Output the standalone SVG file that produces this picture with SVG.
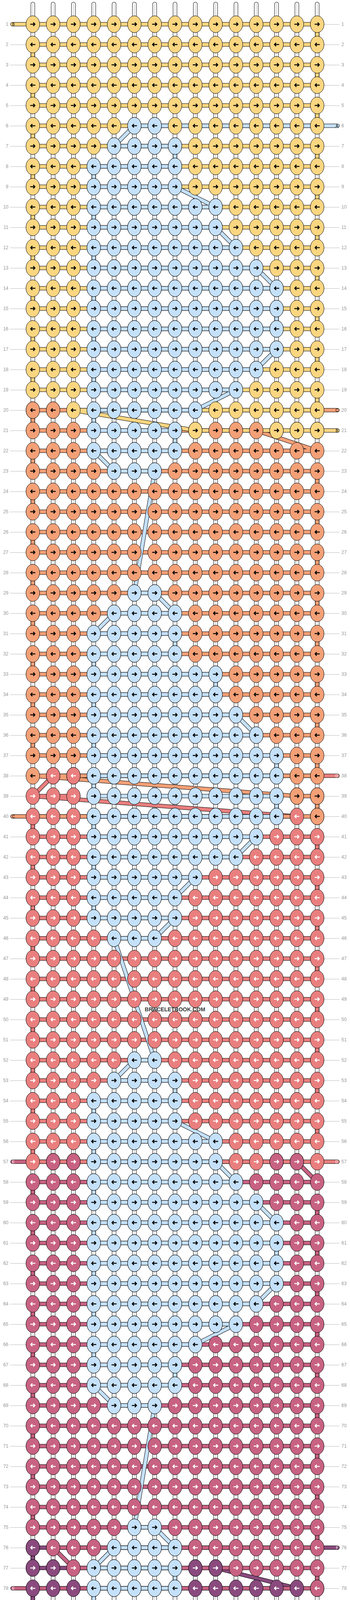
<svg xmlns="http://www.w3.org/2000/svg" width="896" height="5116" viewBox="0 0 896 5116">
<style>
.t0{fill:none;stroke:#000;stroke-width:11;stroke-linecap:round}
.t1{fill:none;stroke:#fff;stroke-width:9;stroke-linecap:round}
.t2{fill:none;stroke:#c4c4c4;stroke-width:1.4}
.gl{fill:none;stroke:#bbb;stroke-width:1}
.s0{fill:none;stroke:#000;stroke-width:10.5;stroke-linecap:round;stroke-linejoin:round}
.s{fill:none;stroke-width:8.5;stroke-linecap:round;stroke-linejoin:round}
.cY{stroke:#FAD681}.cB{stroke:#C5E1FA}.cO{stroke:#F3A077}.cR{stroke:#E97F7E}.cP{stroke:#C86282}.cV{stroke:#8A4A7E}
.kY{fill:#FAD681;stroke:#000}.kB{fill:#C5E1FA;stroke:#000}.kO{fill:#F3A077;stroke:#000}.kR{fill:#E97F7E;stroke:#000}.kP{fill:#C86282;stroke:#000}.kV{fill:#8A4A7E;stroke:#000}
.ab{fill:none;stroke:#000;stroke-width:2.6}
.aw{fill:none;stroke:#fff;stroke-width:2.6}
.lb{font-family:"Liberation Sans",Arial,sans-serif;font-size:12px;fill:#999}
.sl{font-family:"Liberation Sans",Arial,sans-serif;font-size:10px}
.wm{font-family:"Liberation Sans",Arial,sans-serif;font-size:14px;font-weight:bold;fill:#3c3c3c}
</style>
<defs>
<path id="tp" d="M84 10.5V5105.5M136 10.5V5105.5M188 10.5V5105.5M240 10.5V5105.5M292 10.5V5105.5M344 10.5V5105.5M396 10.5V5105.5M448 10.5V5105.5M500 10.5V5105.5M552 10.5V5105.5M604 10.5V5105.5M656 10.5V5105.5M708 10.5V5105.5M760 10.5V5105.5M812 10.5V5105.5"/>
<path id="pV" d="M864 3962H84V4014H552L760 4066H84V4118H812V4170H84V4222H812V4274H84V4326H812V4378H84V4430H812V4482H84V4534H812V4586H84V4638H812V4690H84V4742H812V4794H84V4846H812V4898H84V4950H812V5002H84V5054H864"/>
<path id="pP" d="M32 2974H760L812 3026H84V3078H812V3130H84V3182H812V3234H84V3286H812V3338H84V3390H812V3442H84V3494H812V3546H84V3598H812V3650H84V3702H812V3754H84V3806H812V3858H84V3910H812V3962H136L188 4014H812V4066H32"/>
<path id="pR" d="M864 1986H136L84 2038L760 2090H84V2142H812V2194H84V2246H812V2298H84V2350H812V2402H84V2454H812V2506H84V2558H812V2610H84V2662H812V2714H84V2766H812V2818H84V2870H812V2922H84V2974H864M84 2038H188"/>
<path id="pO" d="M864 1050H84V1102H656L812 1154H84V1206H812V1258H84V1310H812V1362H84V1414H812V1466H84V1518H812V1570H84V1622H812V1674H84V1726H812V1778H84V1830H812V1882H84V1934H812V1986H84L760 2038H812V2090H32"/>
<path id="pY" d="M32 62H812V114H84V166H812V218H84V270H812V322H84V374H812V426H84V478H812V530H84V582H812V634H84V686H812V738H84V790H812V842H84V894H812V946H84V998H812V1050H188L500 1102H864"/>
<path id="pB" d="M864 322H344L292 374H448V426H240V478H448L552 530H240V582H552L604 634H240V686H656L708 738H240V790H708V842H240V894H708L656 946H240V998H604L500 1050H240V1102H448V1154H240L292 1206H396L344 1518H396L448 1570H292L240 1622H448V1674H240V1726H552V1778H240V1830H604L656 1882H240V1934H708V1986H240V2038H708V2090H240V2142H656L604 2194H240V2246H500L448 2298H240V2350H448L396 2402H292L396 2714H344L292 2766H448V2818H240V2870H448L552 2922H240V2974H552L604 3026H240V3078H656L708 3130H240V3182H708V3234H240V3286H708L656 3338H240V3390H604L500 3442H240V3494H448V3546H240L292 3598H396L344 3910H396L448 3962H292L240 4014H448V4066H240V4118H552V4170H240V4222H604L656 4274H240V4326H708V4378H240V4430H708V4482H240V4534H656L604 4586H240V4638H500L448 4690H240V4742H448L396 4794H32"/>
<ellipse id="e" rx="17.5" ry="21.5"/>
<path id="ar" d="M-6.5 0H5M1.2-4.3L5.3 0 1.2 4.3"/>
<path id="al" d="M6.5 0H-5M-1.2-4.3L-5.3 0-1.2 4.3"/>
<g id="E15"><use href="#e" x="84"/><use href="#e" x="136"/><use href="#e" x="188"/><use href="#e" x="240"/><use href="#e" x="292"/><use href="#e" x="344"/><use href="#e" x="396"/><use href="#e" x="448"/><use href="#e" x="500"/><use href="#e" x="552"/><use href="#e" x="604"/><use href="#e" x="656"/><use href="#e" x="708"/><use href="#e" x="760"/><use href="#e" x="812"/></g>
<g id="R15"><use href="#ar" x="84"/><use href="#ar" x="136"/><use href="#ar" x="188"/><use href="#ar" x="240"/><use href="#ar" x="292"/><use href="#ar" x="344"/><use href="#ar" x="396"/><use href="#ar" x="448"/><use href="#ar" x="500"/><use href="#ar" x="552"/><use href="#ar" x="604"/><use href="#ar" x="656"/><use href="#ar" x="708"/><use href="#ar" x="760"/><use href="#ar" x="812"/></g>
<g id="L15"><use href="#al" x="84"/><use href="#al" x="136"/><use href="#al" x="188"/><use href="#al" x="240"/><use href="#al" x="292"/><use href="#al" x="344"/><use href="#al" x="396"/><use href="#al" x="448"/><use href="#al" x="500"/><use href="#al" x="552"/><use href="#al" x="604"/><use href="#al" x="656"/><use href="#al" x="708"/><use href="#al" x="760"/><use href="#al" x="812"/></g>
<g id="Yr" class="kY"><use href="#E15"/><use href="#R15" class="ab"/></g>
<g id="Yl" class="kY"><use href="#E15"/><use href="#L15" class="ab"/></g>
<g id="Or" class="kO"><use href="#E15"/><use href="#R15" class="ab"/></g>
<g id="Ol" class="kO"><use href="#E15"/><use href="#L15" class="ab"/></g>
<g id="Rr" class="kR"><use href="#E15"/><use href="#R15" class="aw"/></g>
<g id="Rl" class="kR"><use href="#E15"/><use href="#L15" class="aw"/></g>
<g id="Pr" class="kP"><use href="#E15"/><use href="#R15" class="aw"/></g>
<g id="Pl" class="kP"><use href="#E15"/><use href="#L15" class="aw"/></g>
<g id="Vr" class="kV"><use href="#E15"/><use href="#R15" class="aw"/></g>
<g id="Vl" class="kV"><use href="#E15"/><use href="#L15" class="aw"/></g>
<g id="yr" class="kY"><use href="#e"/><use href="#ar" class="ab"/></g>
<g id="ol" class="kO"><use href="#e"/><use href="#al" class="ab"/></g>
<g id="or" class="kO"><use href="#e"/><use href="#ar" class="ab"/></g>
<g id="rl" class="kR"><use href="#e"/><use href="#al" class="aw"/></g>
<g id="pr" class="kP"><use href="#e"/><use href="#ar" class="aw"/></g>
<g id="pl" class="kP"><use href="#e"/><use href="#al" class="aw"/></g>
<g id="vr" class="kV"><use href="#e"/><use href="#ar" class="aw"/></g>
<g id="vl" class="kV"><use href="#e"/><use href="#al" class="aw"/></g>
<g id="br" class="kB"><use href="#e"/><use href="#ar" class="ab"/></g>
<g id="bl" class="kB"><use href="#e"/><use href="#al" class="ab"/></g>
<g id="Br2"><use href="#br"/><use href="#br" x="52"/></g>
<g id="Br3"><use href="#Br2"/><use href="#br" x="104"/></g>
<g id="Br4"><use href="#Br3"/><use href="#br" x="156"/></g>
<g id="Br5"><use href="#Br4"/><use href="#br" x="208"/></g>
<g id="Br6"><use href="#Br5"/><use href="#br" x="260"/></g>
<g id="Br7"><use href="#Br6"/><use href="#br" x="312"/></g>
<g id="Br8"><use href="#Br7"/><use href="#br" x="364"/></g>
<g id="Br9"><use href="#Br8"/><use href="#br" x="416"/></g>
<g id="Br10"><use href="#Br9"/><use href="#br" x="468"/></g>
<g id="Bl2"><use href="#bl"/><use href="#bl" x="52"/></g>
<g id="Bl3"><use href="#Bl2"/><use href="#bl" x="104"/></g>
<g id="Bl4"><use href="#Bl3"/><use href="#bl" x="156"/></g>
<g id="Bl5"><use href="#Bl4"/><use href="#bl" x="208"/></g>
<g id="Bl6"><use href="#Bl5"/><use href="#bl" x="260"/></g>
<g id="Bl7"><use href="#Bl6"/><use href="#bl" x="312"/></g>
<g id="Bl8"><use href="#Bl7"/><use href="#bl" x="364"/></g>
<g id="Bl9"><use href="#Bl8"/><use href="#bl" x="416"/></g>
<g id="Bl10"><use href="#Bl9"/><use href="#bl" x="468"/></g>
</defs>
<rect width="896" height="5116" fill="#fff"/>
<path id="guides" class="gl" d="M26 62.5H67M829 62.5H869M26 114.5H67M829 114.5H869M26 166.5H67M829 166.5H869M26 218.5H67M829 218.5H869M26 270.5H67M829 270.5H869M26 322.5H67M829 322.5H869M26 374.5H67M829 374.5H869M26 426.5H67M829 426.5H869M26 478.5H67M829 478.5H869M26 530.5H67M829 530.5H869M26 582.5H67M829 582.5H869M26 634.5H67M829 634.5H869M26 686.5H67M829 686.5H869M26 738.5H67M829 738.5H869M26 790.5H67M829 790.5H869M26 842.5H67M829 842.5H869M26 894.5H67M829 894.5H869M26 946.5H67M829 946.5H869M26 998.5H67M829 998.5H869M26 1050.5H67M829 1050.5H869M26 1102.5H67M829 1102.5H869M26 1154.5H67M829 1154.5H869M26 1206.5H67M829 1206.5H869M26 1258.5H67M829 1258.5H869M26 1310.5H67M829 1310.5H869M26 1362.5H67M829 1362.5H869M26 1414.5H67M829 1414.5H869M26 1466.5H67M829 1466.5H869M26 1518.5H67M829 1518.5H869M26 1570.5H67M829 1570.5H869M26 1622.5H67M829 1622.5H869M26 1674.5H67M829 1674.5H869M26 1726.5H67M829 1726.5H869M26 1778.5H67M829 1778.5H869M26 1830.5H67M829 1830.5H869M26 1882.5H67M829 1882.5H869M26 1934.5H67M829 1934.5H869M26 1986.5H67M829 1986.5H869M26 2038.5H67M829 2038.5H869M26 2090.5H67M829 2090.5H869M26 2142.5H67M829 2142.5H869M26 2194.5H67M829 2194.5H869M26 2246.5H67M829 2246.5H869M26 2298.5H67M829 2298.5H869M26 2350.5H67M829 2350.5H869M26 2402.5H67M829 2402.5H869M26 2454.5H67M829 2454.5H869M26 2506.5H67M829 2506.5H869M26 2558.5H67M829 2558.5H869M26 2610.5H67M829 2610.5H869M26 2662.5H67M829 2662.5H869M26 2714.5H67M829 2714.5H869M26 2766.5H67M829 2766.5H869M26 2818.5H67M829 2818.5H869M26 2870.5H67M829 2870.5H869M26 2922.5H67M829 2922.5H869M26 2974.5H67M829 2974.5H869M26 3026.5H67M829 3026.5H869M26 3078.5H67M829 3078.5H869M26 3130.5H67M829 3130.5H869M26 3182.5H67M829 3182.5H869M26 3234.5H67M829 3234.5H869M26 3286.5H67M829 3286.5H869M26 3338.5H67M829 3338.5H869M26 3390.5H67M829 3390.5H869M26 3442.5H67M829 3442.5H869M26 3494.5H67M829 3494.5H869M26 3546.5H67M829 3546.5H869M26 3598.5H67M829 3598.5H869M26 3650.5H67M829 3650.5H869M26 3702.5H67M829 3702.5H869M26 3754.5H67M829 3754.5H869M26 3806.5H67M829 3806.5H869M26 3858.5H67M829 3858.5H869M26 3910.5H67M829 3910.5H869M26 3962.5H67M829 3962.5H869M26 4014.5H67M829 4014.5H869M26 4066.5H67M829 4066.5H869M26 4118.5H67M829 4118.5H869M26 4170.5H67M829 4170.5H869M26 4222.5H67M829 4222.5H869M26 4274.5H67M829 4274.5H869M26 4326.5H67M829 4326.5H869M26 4378.5H67M829 4378.5H869M26 4430.5H67M829 4430.5H869M26 4482.5H67M829 4482.5H869M26 4534.5H67M829 4534.5H869M26 4586.5H67M829 4586.5H869M26 4638.5H67M829 4638.5H869M26 4690.5H67M829 4690.5H869M26 4742.5H67M829 4742.5H869M26 4794.5H67M829 4794.5H869M26 4846.5H67M829 4846.5H869M26 4898.5H67M829 4898.5H869M26 4950.5H67M829 4950.5H869M26 5002.5H67M829 5002.5H869M26 5054.5H67M829 5054.5H869"/>
<g id="base-strings"><use href="#tp" class="t0"/><use href="#tp" class="t1"/><use href="#tp" class="t2"/></g>
<g id="connectors">
<use href="#pV" class="s0"/><use href="#pV" class="s cV"/>
<use href="#pP" class="s0"/><use href="#pP" class="s cP"/>
<use href="#pR" class="s0"/><use href="#pR" class="s cR"/>
<use href="#pO" class="s0"/><use href="#pO" class="s cO"/>
<use href="#pY" class="s0"/><use href="#pY" class="s cY"/>
<use href="#pB" class="s0"/><use href="#pB" class="s cB"/>
</g>
<g id="knots">
<g id="r1"><use href="#Yr" y="62"/></g>
<g id="r2"><use href="#Yl" y="114"/></g>
<g id="r3"><use href="#Yr" y="166"/></g>
<g id="r4"><use href="#Yl" y="218"/></g>
<g id="r5"><use href="#Yr" y="270"/></g>
<g id="r6"><use href="#Yl" y="322"/><use href="#Bl2" x="344" y="322"/></g>
<g id="r7"><use href="#Yr" y="374"/><use href="#Br4" x="292" y="374"/></g>
<g id="r8"><use href="#Yl" y="426"/><use href="#Bl5" x="240" y="426"/></g>
<g id="r9"><use href="#Yr" y="478"/><use href="#Br5" x="240" y="478"/></g>
<g id="r10"><use href="#Yl" y="530"/><use href="#Bl7" x="240" y="530"/></g>
<g id="r11"><use href="#Yr" y="582"/><use href="#Br7" x="240" y="582"/></g>
<g id="r12"><use href="#Yl" y="634"/><use href="#Bl8" x="240" y="634"/></g>
<g id="r13"><use href="#Yr" y="686"/><use href="#Br9" x="240" y="686"/></g>
<g id="r14"><use href="#Yl" y="738"/><use href="#Bl10" x="240" y="738"/></g>
<g id="r15"><use href="#Yr" y="790"/><use href="#Br10" x="240" y="790"/></g>
<g id="r16"><use href="#Yl" y="842"/><use href="#Bl10" x="240" y="842"/></g>
<g id="r17"><use href="#Yr" y="894"/><use href="#Br10" x="240" y="894"/></g>
<g id="r18"><use href="#Yl" y="946"/><use href="#Bl9" x="240" y="946"/></g>
<g id="r19"><use href="#Yr" y="998"/><use href="#Br8" x="240" y="998"/></g>
<g id="r20"><use href="#Yl" y="1050"/><use href="#Bl6" x="240" y="1050"/><use href="#ol" x="84" y="1050"/><use href="#ol" x="136" y="1050"/></g>
<g id="r21"><use href="#Or" y="1102"/><use href="#Br5" x="240" y="1102"/><use href="#yr" x="500" y="1102"/><use href="#yr" x="708" y="1102"/><use href="#yr" x="760" y="1102"/><use href="#yr" x="812" y="1102"/></g>
<g id="r22"><use href="#Ol" y="1154"/><use href="#Bl5" x="240" y="1154"/></g>
<g id="r23"><use href="#Or" y="1206"/><use href="#Br3" x="292" y="1206"/></g>
<g id="r24"><use href="#Ol" y="1258"/></g>
<g id="r25"><use href="#Or" y="1310"/></g>
<g id="r26"><use href="#Ol" y="1362"/></g>
<g id="r27"><use href="#Or" y="1414"/></g>
<g id="r28"><use href="#Ol" y="1466"/></g>
<g id="r29"><use href="#Or" y="1518"/><use href="#Br2" x="344" y="1518"/></g>
<g id="r30"><use href="#Ol" y="1570"/><use href="#Bl4" x="292" y="1570"/></g>
<g id="r31"><use href="#Or" y="1622"/><use href="#Br5" x="240" y="1622"/></g>
<g id="r32"><use href="#Ol" y="1674"/><use href="#Bl5" x="240" y="1674"/></g>
<g id="r33"><use href="#Or" y="1726"/><use href="#Br7" x="240" y="1726"/></g>
<g id="r34"><use href="#Ol" y="1778"/><use href="#Bl7" x="240" y="1778"/></g>
<g id="r35"><use href="#Or" y="1830"/><use href="#Br8" x="240" y="1830"/></g>
<g id="r36"><use href="#Ol" y="1882"/><use href="#Bl9" x="240" y="1882"/></g>
<g id="r37"><use href="#Or" y="1934"/><use href="#Br10" x="240" y="1934"/></g>
<g id="r38"><use href="#Ol" y="1986"/><use href="#Bl10" x="240" y="1986"/><use href="#rl" x="136" y="1986"/><use href="#rl" x="188" y="1986"/></g>
<g id="r39"><use href="#Rr" y="2038"/><use href="#Br10" x="240" y="2038"/><use href="#or" x="760" y="2038"/><use href="#or" x="812" y="2038"/></g>
<g id="r40"><use href="#Rl" y="2090"/><use href="#Bl10" x="240" y="2090"/><use href="#ol" x="812" y="2090"/></g>
<g id="r41"><use href="#Rr" y="2142"/><use href="#Br9" x="240" y="2142"/></g>
<g id="r42"><use href="#Rl" y="2194"/><use href="#Bl8" x="240" y="2194"/></g>
<g id="r43"><use href="#Rr" y="2246"/><use href="#Br6" x="240" y="2246"/></g>
<g id="r44"><use href="#Rl" y="2298"/><use href="#Bl5" x="240" y="2298"/></g>
<g id="r45"><use href="#Rr" y="2350"/><use href="#Br5" x="240" y="2350"/></g>
<g id="r46"><use href="#Rl" y="2402"/><use href="#Bl3" x="292" y="2402"/></g>
<g id="r47"><use href="#Rr" y="2454"/></g>
<g id="r48"><use href="#Rl" y="2506"/></g>
<g id="r49"><use href="#Rr" y="2558"/></g>
<g id="r50"><use href="#Rl" y="2610"/></g>
<g id="r51"><use href="#Rr" y="2662"/></g>
<g id="r52"><use href="#Rl" y="2714"/><use href="#Bl2" x="344" y="2714"/></g>
<g id="r53"><use href="#Rr" y="2766"/><use href="#Br4" x="292" y="2766"/></g>
<g id="r54"><use href="#Rl" y="2818"/><use href="#Bl5" x="240" y="2818"/></g>
<g id="r55"><use href="#Rr" y="2870"/><use href="#Br5" x="240" y="2870"/></g>
<g id="r56"><use href="#Rl" y="2922"/><use href="#Bl7" x="240" y="2922"/></g>
<g id="r57"><use href="#Rr" y="2974"/><use href="#Br7" x="240" y="2974"/><use href="#pr" x="136" y="2974"/><use href="#pr" x="188" y="2974"/><use href="#pr" x="708" y="2974"/><use href="#pr" x="760" y="2974"/></g>
<g id="r58"><use href="#Pl" y="3026"/><use href="#Bl8" x="240" y="3026"/></g>
<g id="r59"><use href="#Pr" y="3078"/><use href="#Br9" x="240" y="3078"/></g>
<g id="r60"><use href="#Pl" y="3130"/><use href="#Bl10" x="240" y="3130"/></g>
<g id="r61"><use href="#Pr" y="3182"/><use href="#Br10" x="240" y="3182"/></g>
<g id="r62"><use href="#Pl" y="3234"/><use href="#Bl10" x="240" y="3234"/></g>
<g id="r63"><use href="#Pr" y="3286"/><use href="#Br10" x="240" y="3286"/></g>
<g id="r64"><use href="#Pl" y="3338"/><use href="#Bl9" x="240" y="3338"/></g>
<g id="r65"><use href="#Pr" y="3390"/><use href="#Br8" x="240" y="3390"/></g>
<g id="r66"><use href="#Pl" y="3442"/><use href="#Bl6" x="240" y="3442"/></g>
<g id="r67"><use href="#Pr" y="3494"/><use href="#Br5" x="240" y="3494"/></g>
<g id="r68"><use href="#Pl" y="3546"/><use href="#Bl5" x="240" y="3546"/></g>
<g id="r69"><use href="#Pr" y="3598"/><use href="#Br3" x="292" y="3598"/></g>
<g id="r70"><use href="#Pl" y="3650"/></g>
<g id="r71"><use href="#Pr" y="3702"/></g>
<g id="r72"><use href="#Pl" y="3754"/></g>
<g id="r73"><use href="#Pr" y="3806"/></g>
<g id="r74"><use href="#Pl" y="3858"/></g>
<g id="r75"><use href="#Pr" y="3910"/><use href="#Br2" x="344" y="3910"/></g>
<g id="r76"><use href="#Pl" y="3962"/><use href="#Bl4" x="292" y="3962"/><use href="#vl" x="84" y="3962"/></g>
<g id="r77"><use href="#Pr" y="4014"/><use href="#Br5" x="240" y="4014"/><use href="#vr" x="84" y="4014"/><use href="#vr" x="136" y="4014"/><use href="#vr" x="500" y="4014"/><use href="#vr" x="552" y="4014"/></g>
<g id="r78"><use href="#Vl" y="4066"/><use href="#Bl5" x="240" y="4066"/><use href="#pl" x="812" y="4066"/></g>
<g id="r79"><use href="#Vr" y="4118"/><use href="#Br7" x="240" y="4118"/></g>
<g id="r80"><use href="#Vl" y="4170"/><use href="#Bl7" x="240" y="4170"/></g>
<g id="r81"><use href="#Vr" y="4222"/><use href="#Br8" x="240" y="4222"/></g>
<g id="r82"><use href="#Vl" y="4274"/><use href="#Bl9" x="240" y="4274"/></g>
<g id="r83"><use href="#Vr" y="4326"/><use href="#Br10" x="240" y="4326"/></g>
<g id="r84"><use href="#Vl" y="4378"/><use href="#Bl10" x="240" y="4378"/></g>
<g id="r85"><use href="#Vr" y="4430"/><use href="#Br10" x="240" y="4430"/></g>
<g id="r86"><use href="#Vl" y="4482"/><use href="#Bl10" x="240" y="4482"/></g>
<g id="r87"><use href="#Vr" y="4534"/><use href="#Br9" x="240" y="4534"/></g>
<g id="r88"><use href="#Vl" y="4586"/><use href="#Bl8" x="240" y="4586"/></g>
<g id="r89"><use href="#Vr" y="4638"/><use href="#Br6" x="240" y="4638"/></g>
<g id="r90"><use href="#Vl" y="4690"/><use href="#Bl5" x="240" y="4690"/></g>
<g id="r91"><use href="#Vr" y="4742"/><use href="#Br5" x="240" y="4742"/></g>
<g id="r92"><use href="#Vl" y="4794"/><use href="#Bl3" x="292" y="4794"/></g>
<g id="r93"><use href="#Vr" y="4846"/></g>
<g id="r94"><use href="#Vl" y="4898"/></g>
<g id="r95"><use href="#Vr" y="4950"/></g>
<g id="r96"><use href="#Vl" y="5002"/></g>
<g id="r97"><use href="#Vr" y="5054"/></g>
</g>
<g id="stub-labels" class="sl">
<text x="31" y="65.7">B</text>
<text x="31" y="2093.7">C</text>
<text x="31" y="2977.7" fill="#fff">E</text>
<text x="31" y="4069.7" fill="#fff">E</text>
<text x="31" y="4797.7">A</text>
<g text-anchor="end">
<text x="866" y="325.7">A</text>
<text x="866" y="1053.7">C</text>
<text x="866" y="1105.7">B</text>
<text x="866" y="1989.7" fill="#fff">D</text>
<text x="866" y="2977.7" fill="#fff">D</text>
<text x="866" y="3965.7" fill="#fff">F</text>
<text x="866" y="5057.7" fill="#fff">F</text>
</g>
</g>
<g id="row-labels-left" class="lb" text-anchor="end">
<text x="21.5" y="66.3">1</text><text x="21.5" y="118.3">2</text><text x="21.5" y="170.3">3</text><text x="21.5" y="222.3">4</text><text x="21.5" y="274.3">5</text><text x="21.5" y="326.3">6</text><text x="21.5" y="378.3">7</text><text x="21.5" y="430.3">8</text><text x="21.5" y="482.3">9</text><text x="21.5" y="534.3">10</text>
<text x="21.5" y="586.3">11</text><text x="21.5" y="638.3">12</text><text x="21.5" y="690.3">13</text><text x="21.5" y="742.3">14</text><text x="21.5" y="794.3">15</text><text x="21.5" y="846.3">16</text><text x="21.5" y="898.3">17</text><text x="21.5" y="950.3">18</text><text x="21.5" y="1002.3">19</text><text x="21.5" y="1054.3">20</text>
<text x="21.5" y="1106.3">21</text><text x="21.5" y="1158.3">22</text><text x="21.5" y="1210.3">23</text><text x="21.5" y="1262.3">24</text><text x="21.5" y="1314.3">25</text><text x="21.5" y="1366.3">26</text><text x="21.5" y="1418.3">27</text><text x="21.5" y="1470.3">28</text><text x="21.5" y="1522.3">29</text><text x="21.5" y="1574.3">30</text>
<text x="21.5" y="1626.3">31</text><text x="21.5" y="1678.3">32</text><text x="21.5" y="1730.3">33</text><text x="21.5" y="1782.3">34</text><text x="21.5" y="1834.3">35</text><text x="21.5" y="1886.3">36</text><text x="21.5" y="1938.3">37</text><text x="21.5" y="1990.3">38</text><text x="21.5" y="2042.3">39</text><text x="21.5" y="2094.3">40</text>
<text x="21.5" y="2146.3">41</text><text x="21.5" y="2198.3">42</text><text x="21.5" y="2250.3">43</text><text x="21.5" y="2302.3">44</text><text x="21.5" y="2354.3">45</text><text x="21.5" y="2406.3">46</text><text x="21.5" y="2458.3">47</text><text x="21.5" y="2510.3">48</text><text x="21.5" y="2562.3">49</text><text x="21.5" y="2614.3">50</text>
<text x="21.5" y="2666.3">51</text><text x="21.5" y="2718.3">52</text><text x="21.5" y="2770.3">53</text><text x="21.5" y="2822.3">54</text><text x="21.5" y="2874.3">55</text><text x="21.5" y="2926.3">56</text><text x="21.5" y="2978.3">57</text><text x="21.5" y="3030.3">58</text><text x="21.5" y="3082.3">59</text><text x="21.5" y="3134.3">60</text>
<text x="21.5" y="3186.3">61</text><text x="21.5" y="3238.3">62</text><text x="21.5" y="3290.3">63</text><text x="21.5" y="3342.3">64</text><text x="21.5" y="3394.3">65</text><text x="21.5" y="3446.3">66</text><text x="21.5" y="3498.3">67</text><text x="21.5" y="3550.3">68</text><text x="21.5" y="3602.3">69</text><text x="21.5" y="3654.3">70</text>
<text x="21.5" y="3706.3">71</text><text x="21.5" y="3758.3">72</text><text x="21.5" y="3810.3">73</text><text x="21.5" y="3862.3">74</text><text x="21.5" y="3914.3">75</text><text x="21.5" y="3966.3">76</text><text x="21.5" y="4018.3">77</text><text x="21.5" y="4070.3">78</text><text x="21.5" y="4122.3">79</text><text x="21.5" y="4174.3">80</text>
<text x="21.5" y="4226.3">81</text><text x="21.5" y="4278.3">82</text><text x="21.5" y="4330.3">83</text><text x="21.5" y="4382.3">84</text><text x="21.5" y="4434.3">85</text><text x="21.5" y="4486.3">86</text><text x="21.5" y="4538.3">87</text><text x="21.5" y="4590.3">88</text><text x="21.5" y="4642.3">89</text><text x="21.5" y="4694.3">90</text>
<text x="21.5" y="4746.3">91</text><text x="21.5" y="4798.3">92</text><text x="21.5" y="4850.3">93</text><text x="21.5" y="4902.3">94</text><text x="21.5" y="4954.3">95</text><text x="21.5" y="5006.3">96</text><text x="21.5" y="5058.3">97</text>
</g>
<g id="row-labels-right" class="lb">
<text x="874" y="66.3">1</text><text x="874" y="118.3">2</text><text x="874" y="170.3">3</text><text x="874" y="222.3">4</text><text x="874" y="274.3">5</text><text x="874" y="326.3">6</text><text x="874" y="378.3">7</text><text x="874" y="430.3">8</text><text x="874" y="482.3">9</text><text x="874" y="534.3">10</text>
<text x="874" y="586.3">11</text><text x="874" y="638.3">12</text><text x="874" y="690.3">13</text><text x="874" y="742.3">14</text><text x="874" y="794.3">15</text><text x="874" y="846.3">16</text><text x="874" y="898.3">17</text><text x="874" y="950.3">18</text><text x="874" y="1002.3">19</text><text x="874" y="1054.3">20</text>
<text x="874" y="1106.3">21</text><text x="874" y="1158.3">22</text><text x="874" y="1210.3">23</text><text x="874" y="1262.3">24</text><text x="874" y="1314.3">25</text><text x="874" y="1366.3">26</text><text x="874" y="1418.3">27</text><text x="874" y="1470.3">28</text><text x="874" y="1522.3">29</text><text x="874" y="1574.3">30</text>
<text x="874" y="1626.3">31</text><text x="874" y="1678.3">32</text><text x="874" y="1730.3">33</text><text x="874" y="1782.3">34</text><text x="874" y="1834.3">35</text><text x="874" y="1886.3">36</text><text x="874" y="1938.3">37</text><text x="874" y="1990.3">38</text><text x="874" y="2042.3">39</text><text x="874" y="2094.3">40</text>
<text x="874" y="2146.3">41</text><text x="874" y="2198.3">42</text><text x="874" y="2250.3">43</text><text x="874" y="2302.3">44</text><text x="874" y="2354.3">45</text><text x="874" y="2406.3">46</text><text x="874" y="2458.3">47</text><text x="874" y="2510.3">48</text><text x="874" y="2562.3">49</text><text x="874" y="2614.3">50</text>
<text x="874" y="2666.3">51</text><text x="874" y="2718.3">52</text><text x="874" y="2770.3">53</text><text x="874" y="2822.3">54</text><text x="874" y="2874.3">55</text><text x="874" y="2926.3">56</text><text x="874" y="2978.3">57</text><text x="874" y="3030.3">58</text><text x="874" y="3082.3">59</text><text x="874" y="3134.3">60</text>
<text x="874" y="3186.3">61</text><text x="874" y="3238.3">62</text><text x="874" y="3290.3">63</text><text x="874" y="3342.3">64</text><text x="874" y="3394.3">65</text><text x="874" y="3446.3">66</text><text x="874" y="3498.3">67</text><text x="874" y="3550.3">68</text><text x="874" y="3602.3">69</text><text x="874" y="3654.3">70</text>
<text x="874" y="3706.3">71</text><text x="874" y="3758.3">72</text><text x="874" y="3810.3">73</text><text x="874" y="3862.3">74</text><text x="874" y="3914.3">75</text><text x="874" y="3966.3">76</text><text x="874" y="4018.3">77</text><text x="874" y="4070.3">78</text><text x="874" y="4122.3">79</text><text x="874" y="4174.3">80</text>
<text x="874" y="4226.3">81</text><text x="874" y="4278.3">82</text><text x="874" y="4330.3">83</text><text x="874" y="4382.3">84</text><text x="874" y="4434.3">85</text><text x="874" y="4486.3">86</text><text x="874" y="4538.3">87</text><text x="874" y="4590.3">88</text><text x="874" y="4642.3">89</text><text x="874" y="4694.3">90</text>
<text x="874" y="4746.3">91</text><text x="874" y="4798.3">92</text><text x="874" y="4850.3">93</text><text x="874" y="4902.3">94</text><text x="874" y="4954.3">95</text><text x="874" y="5006.3">96</text><text x="874" y="5058.3">97</text>
</g>
<text id="watermark" class="wm" x="448" y="2589" text-anchor="middle">BRACELETBOOK.COM</text>
</svg>
